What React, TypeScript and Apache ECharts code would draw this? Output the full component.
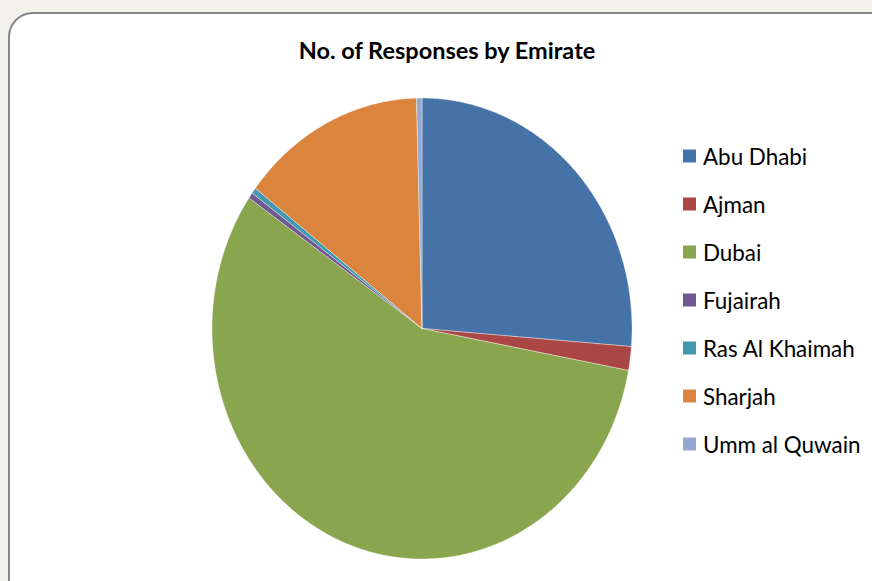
import React, { useEffect, useRef } from "react";
import * as echarts from "echarts";

const categories = ["Abu Dhabi", "Ajman", "Dubai", "Fujairah", "Ras Al Khaimah", "Sharjah", "Umm al Quwain"];
const responses = [63, 4, 136, 1, 1, 34, 1];
const colors = ["#4572A7", "#AA4643", "#89A54E", "#71588F", "#4198AF", "#DB843D", "#93A9CF"];
const titleText = "No. of Responses by Emirate";

const CX = 422;
const CY = 328.5;
const RX = 210;
const RY = 230.5;

export default function App() {
  const ref = useRef<HTMLDivElement>(null);
  useEffect(() => {
    if (!ref.current) return;
    const chart = echarts.init(ref.current, null, { renderer: "svg" });
    const total = responses.reduce((a, b) => a + b, 0);
    const starts: number[] = [];
    let acc = 0;
    for (const v of responses) {
      starts.push(acc);
      acc += v;
    }
    const series = categories.map((name, i) => ({
      type: "custom",
      name,
      coordinateSystem: "none",
      z: 2,
      itemStyle: { color: colors[i] },
      data: [[responses[i]]],
      renderItem: (params: any, api: any) => {
        const v = api.value(0);
        const a0 = (starts[i] / total) * Math.PI * 2;
        const a1 = a0 + (v / total) * Math.PI * 2;
        const steps = Math.max(2, Math.ceil(((a1 - a0) * 180) / Math.PI / 0.5));
        const pts: number[][] = [[CX, CY]];
        for (let k = 0; k <= steps; k++) {
          const a = a0 + ((a1 - a0) * k) / steps;
          pts.push([CX + RX * Math.sin(a), CY - RY * Math.cos(a)]);
        }
        return {
          type: "polygon",
          shape: { points: pts },
          style: { fill: colors[i], stroke: "rgba(255,255,255,0.55)", lineWidth: 0.7 },
        };
      },
    }));
    chart.setOption({
      animation: false,
      backgroundColor: "#f2f1ea",
      title: {
        text: titleText,
        left: 447,
        textAlign: "center",
        top: 38,
        padding: 0,
        textStyle: { fontFamily: "Lato", fontWeight: "bold", fontSize: 23.5, color: "#000" },
      },
      legend: {
        orient: "vertical",
        left: 683,
        top: 145,
        padding: 0,
        itemWidth: 13,
        itemHeight: 13,
        itemGap: 26,
        icon: "rect",
        data: categories,
        selectedMode: false,
        textStyle: { fontFamily: "Lato", fontSize: 22.4, color: "#000", padding: [0, 0, 0, 2] },
      },
      graphic: [
        {
          type: "rect",
          z: 0,
          shape: { x: 9, y: 13, width: 890, height: 600, r: 24 },
          style: { fill: "#fff", stroke: "#878787", lineWidth: 2 },
        },
      ],
      series,
    });
    return () => chart.dispose();
  }, []);
  return (
    <div
      ref={ref}
      style={{ position: "absolute", left: 0, top: 0, width: 872, height: 581 }}
    />
  );
}
